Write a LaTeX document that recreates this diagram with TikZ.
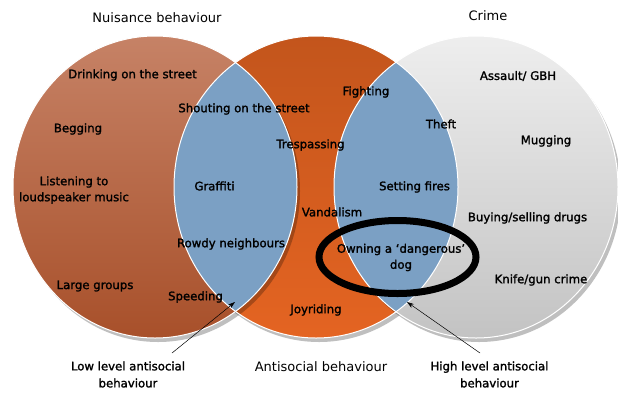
\documentclass[tikz,border=0pt]{standalone}
\usepackage{fontspec}
\setmainfont{DejaVu Sans}
\newfontfamily\lblfont[FakeBold=1.6]{DejaVu Sans}
\usetikzlibrary{arrows.meta,shapes.geometric}
\definecolor{leftTop}{RGB}{198,130,102}
\definecolor{leftBot}{RGB}{168,80,42}
\definecolor{midTop}{RGB}{195,85,28}
\definecolor{midBot}{RGB}{228,100,34}
\definecolor{rightTop}{RGB}{238,238,238}
\definecolor{rightBot}{RGB}{195,195,195}
\definecolor{lensblue}{RGB}{123,160,196}
\begin{document}
\begin{tikzpicture}[x=1pt,y=-1pt,
  lbl/.style={font=\lblfont\fontsize{11.7}{16}\selectfont, inner sep=0pt, align=center},
  lbltwo/.style={lbl, font=\lblfont\fontsize{11.7}{17}\selectfont},
  ttl/.style={font=\fontsize{13}{15}\selectfont, inner sep=0pt, align=center},
  shadowfill/.style={fill=black, opacity=0.25},
  rim/.style={draw=white, line width=1pt},
  pointer/.style={-{Stealth[length=7pt,width=4.5pt]}, line width=0.5pt},
  er/.style={x radius=142pt, y radius=151pt}]
\useasboundingbox (0,0) rectangle (618,392);
\coordinate (L) at (155,187);
\coordinate (M) at (316,187);
\coordinate (R) at (476,187);
% middle circle
\fill[shadowfill] ([shift={(3,4)}]M) ellipse [er];
\shade[top color=midTop, bottom color=midBot] (M) ellipse [er];
% right circle
\fill[shadowfill] ([shift={(3,4)}]R) ellipse [er];
\shade[top color=rightTop, bottom color=rightBot] (R) ellipse [er];
% left circle
\fill[shadowfill] ([shift={(3,4)}]L) ellipse [er];
\shade[top color=leftTop, bottom color=leftBot] (L) ellipse [er];
% lenses
\begin{scope}
  \clip (L) ellipse [er];
  \fill[lensblue] (M) ellipse [er];
\end{scope}
\begin{scope}
  \clip (R) ellipse [er];
  \fill[lensblue] (M) ellipse [er];
\end{scope}
\draw[rim] (L) ellipse [er];
\draw[rim] (M) ellipse [er];
\draw[rim] (R) ellipse [er];
% titles
\node[ttl] (tNuis) at (157,18) {Nuisance behaviour};
\node[ttl] (tCrime) at (488,16) {Crime};
\node[ttl] (tAnti) at (321,367) {Antisocial behaviour};
% labels
\node[lbl] (drink) at (132.5,75) {Drinking on the street};
\node[lbl] (beg) at (78,129) {Begging};
\node[lbl] (listen) at (74,190) {Listening to\\loudspeaker music};
\node[lbl] (large) at (95,286) {Large groups};
\node[lbl] (speed) at (195.5,297) {Speeding};
\node[lbl] (shout) at (244,109) {Shouting on the street};
\node[lbl] (graff) at (214.5,186) {Graffiti};
\node[lbl] (rowdy) at (231,244) {Rowdy neighbours};
\node[lbl] (tresp) at (310.5,145) {Trespassing};
\node[lbl] (fight) at (366,92) {Fighting};
\node[lbl] (vand) at (332,212) {Vandalism};
\node[lbl] (joy) at (316,310) {Joyriding};
\node[lbl] (theft) at (441,124) {Theft};
\node[lbl] (fires) at (414.5,187) {Setting fires};
\node[lbl] (dog) at (401,257.5) {Owning a ‘dangerous’\\dog};
\node[lbl] (assault) at (518,76) {Assault/ GBH};
\node[lbl] (mug) at (546,141) {Mugging};
\node[lbl] (drugs) at (527.5,218) {Buying/selling drugs};
\node[lbl] (knife) at (541,280) {Knife/gun crime};
% highlight ring
\node[draw, ellipse, line width=7pt, minimum width=157pt, minimum height=73pt, inner sep=0pt] (ring) at (397.5,257) {};
% pointers
\node[lbltwo] (low) at (128,374.5) {Low level antisocial\\behaviour};
\node[lbltwo] (high) at (489.5,374.5) {High level antisocial\\behaviour};
\coordinate (lowstart) at (172,353);
\coordinate (lowtip) at (235,302);
\coordinate (highstart) at (480,353);
\coordinate (hightip) at (407,302);
\draw[pointer] (lowstart) -- (lowtip);
\draw[pointer] (highstart) -- (hightip);
\end{tikzpicture}
\end{document}
